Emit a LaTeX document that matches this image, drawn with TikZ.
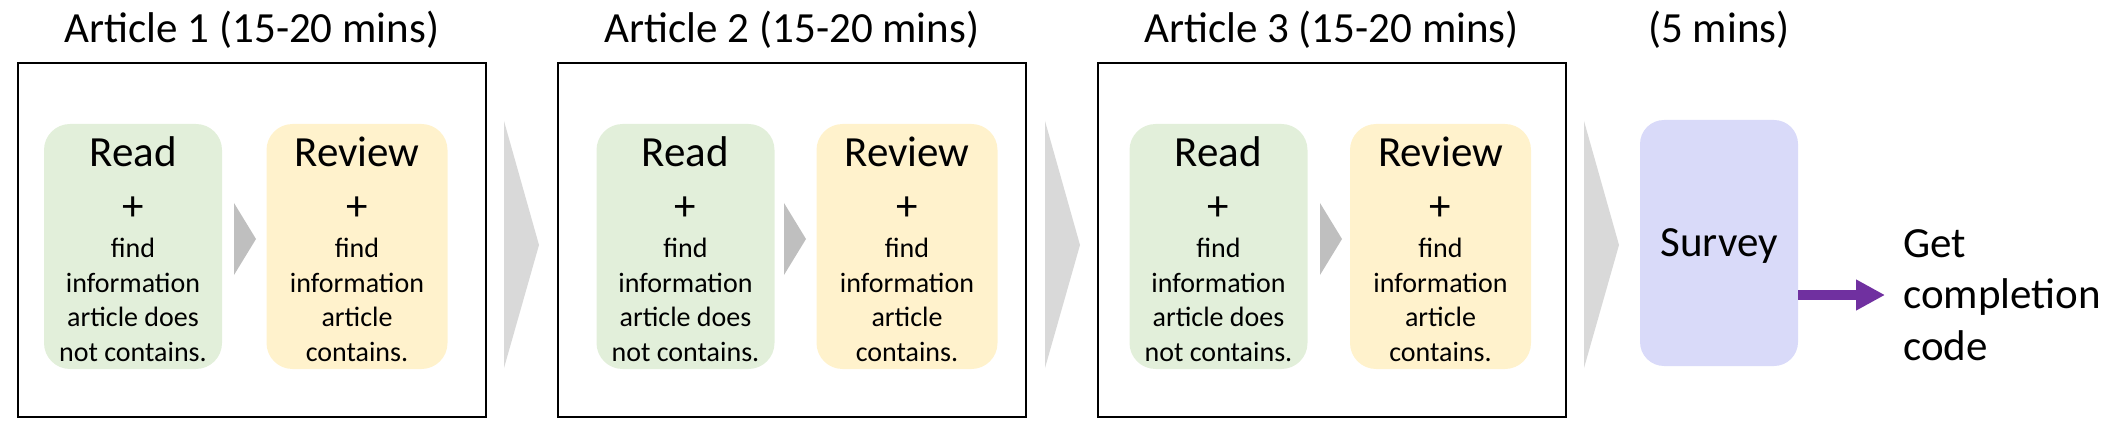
\documentclass[tikz,border=0pt]{standalone}
\usepackage{fontspec}
\setmainfont{Carlito}
\usepackage{xcolor}
\usetikzlibrary{arrows.meta, positioning, math}

\definecolor{readgreen}{RGB}{226,239,218}
\definecolor{reviewyellow}{RGB}{255,242,204}
\definecolor{surveyblue}{RGB}{217,218,249}
\definecolor{codepurple}{RGB}{112,48,160}

\newcommand{\bigtxt}{\fontsize{43}{51.5}\selectfont}
\newcommand{\smalltxt}{\fontsize{28}{34.5}\selectfont}
\newcommand{\topstrut}{\rule{0pt}{35.5pt}}

\tikzset{
  artframe/.style={draw, line width=2, minimum width=468pt, minimum height=354pt, inner sep=0},
  titletxt/.style={font=\bigtxt, inner sep=0},
  readbox/.style={fill=readgreen, rounded corners=26pt, minimum width=178pt, minimum height=245pt, inner sep=0, align=center, font=\smalltxt},
  reviewbox/.style={readbox, fill=reviewyellow, minimum width=181pt},
  surveybox/.style={fill=surveyblue, rounded corners=24pt, minimum width=158pt, minimum height=246pt, inner sep=0, font=\bigtxt, text depth=0pt},
  bigchev/.style={fill=black!15},
  smallchev/.style={fill=black!25},
  codearrow/.style={-{Triangle[length=29pt, width=29pt]}, line width=10, draw=codepurple, shorten >=18pt}
}

\begin{document}
\begin{tikzpicture}[x=1pt, y=-1pt]
\tikzmath{
\chevtop=121;
\chevbot=368;
\chevmid=245;
\chevw=35;
\smtop=203;
\smbot=275;
\smmid=239;
\smw=22;
}
\useasboundingbox (0,0) rectangle (2124,438);

% article frames and titles
\node[artframe] (art1) at (252,240) {};
\node[artframe] (art2) at (792,240) {};
\node[artframe] (art3) at (1331.5,240) {};

\node[titletxt, above=19.5pt of art1, anchor=base] (title1) {Article 1 (15-20 mins)};
\node[titletxt, above=19.5pt of art2, anchor=base] (title2) {Article 2 (15-20 mins)};
\node[titletxt, above=19.5pt of art3, anchor=base] (title3) {Article 3 (15-20 mins)};

% read / review steps
\node[readbox] (read1) at (133,246.5) {{\bigtxt\topstrut Read}\\[19.5pt]{\bigtxt +}\\[2.5pt]find\\information\\article does\\not contains.};
\node[reviewbox] (review1) at (357,246.5) {{\bigtxt\topstrut Review}\\[19.5pt]{\bigtxt +}\\[2.5pt]find\\information\\article\\contains.};

\node[readbox] (read2) at (685.5,246.5) {{\bigtxt\topstrut Read}\\[19.5pt]{\bigtxt +}\\[2.5pt]find\\information\\article does\\not contains.};
\node[reviewbox] (review2) at (907,246.5) {{\bigtxt\topstrut Review}\\[19.5pt]{\bigtxt +}\\[2.5pt]find\\information\\article\\contains.};

\node[readbox] (read3) at (1218.5,246.5) {{\bigtxt\topstrut Read}\\[19.5pt]{\bigtxt +}\\[2.5pt]find\\information\\article does\\not contains.};
\node[reviewbox] (review3) at (1440.5,246.5) {{\bigtxt\topstrut Review}\\[19.5pt]{\bigtxt +}\\[2.5pt]find\\information\\article\\contains.};

% small chevrons inside the frames
\fill[smallchev] (234,\smtop) -- (234,\smbot) -- (234+\smw,\smmid) -- cycle;
\fill[smallchev] (784,\smtop) -- (784,\smbot) -- (784+\smw,\smmid) -- cycle;
\fill[smallchev] (1320,\smtop) -- (1320,\smbot) -- (1320+\smw,\smmid) -- cycle;

% big chevrons between the frames
\fill[bigchev] (504,\chevtop) -- (504,\chevbot) -- (504+\chevw,\chevmid) -- cycle;
\fill[bigchev] (1045,\chevtop) -- (1045,\chevbot) -- (1045+\chevw,\chevmid) -- cycle;
\fill[bigchev] (1584,\chevtop) -- (1584,\chevbot) -- (1584+\chevw,\chevmid) -- cycle;

% survey
\node[surveybox] (survey) at (1719,243) {Survey};
\node[titletxt, anchor=base] (title4) at (survey |- title3.base) {(5 mins)};

\node[font=\bigtxt, align=left, anchor=west, inner sep=0] (getcode) at (1903,295) {Get\\completion\\code};
\draw[codearrow] (survey.east |- getcode.west) -- (getcode.west);

\end{tikzpicture}
\end{document}
